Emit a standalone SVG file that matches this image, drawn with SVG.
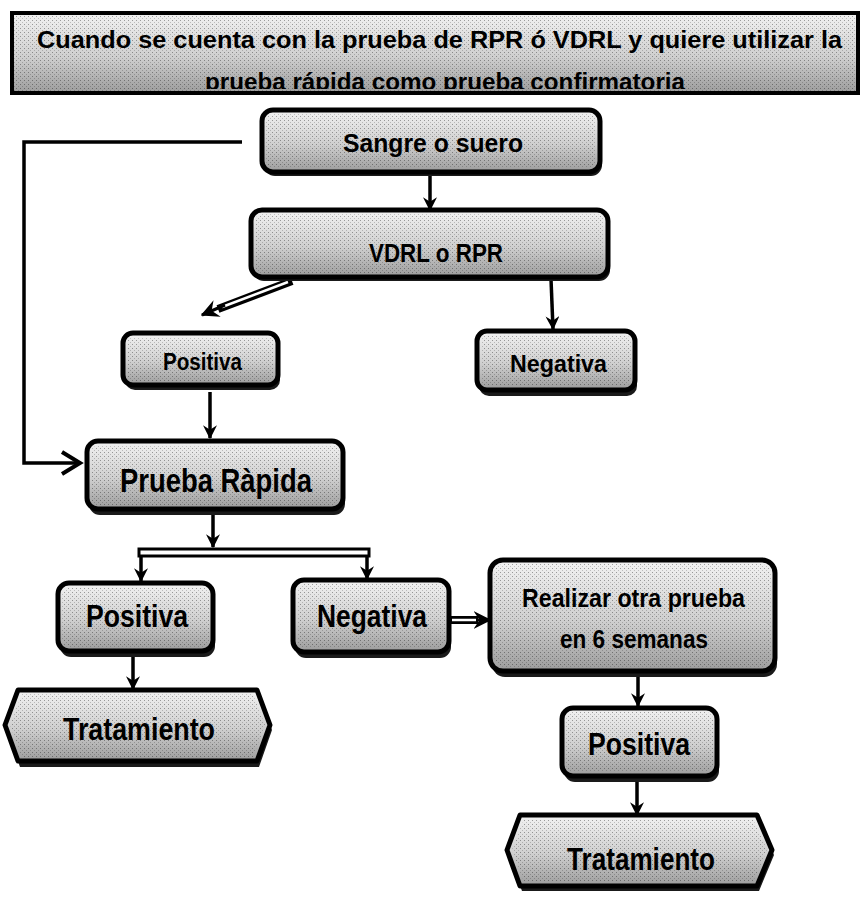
<svg xmlns="http://www.w3.org/2000/svg" width="863" height="907" viewBox="0 0 863 907">
<style>
.box{stroke:#000;stroke-width:5;fill:url(#gfill)}
.tex{fill:url(#dots)}
.shadow{fill:#1a1a1a}
.lbl{font-family:"Liberation Sans Narrow","Liberation Sans",Arial,sans-serif;font-weight:bold;fill:#000;text-anchor:start}
.ln{stroke:#000;stroke-width:3.5;fill:none}
.hol{stroke:#000;stroke-width:8;fill:none}
.holi{stroke:#fff;stroke-width:2.5;fill:none}
</style>
<defs>
<linearGradient id="gfill" x1="0" y1="0" x2="0" y2="1">
<stop offset="0" stop-color="#f2f2f2"/>
<stop offset="0.55" stop-color="#cfcfcf"/>
<stop offset="1" stop-color="#9c9c9c"/>
</linearGradient>
<pattern id="dots" width="4" height="4" patternUnits="userSpaceOnUse">
<rect x="0" y="0" width="1" height="1" fill="#000" opacity="0.35"/>
<rect x="2" y="2" width="1" height="1" fill="#000" opacity="0.2"/>
</pattern>
<marker id="ah" viewBox="0 0 12 12" refX="11" refY="6" markerWidth="14" markerHeight="14" markerUnits="userSpaceOnUse" orient="auto">
<path d="M0,0 L12,6 L0,12 L4,6 z" fill="#000"/>
</marker>
<marker id="ahb" viewBox="0 0 12 12" refX="11" refY="6" markerWidth="18" markerHeight="18" markerUnits="userSpaceOnUse" orient="auto">
<path d="M0,0 L12,6 L0,12 L4,6 z" fill="#000"/>
</marker>
<clipPath id="titleclip"><rect x="12" y="13" width="846" height="76"/></clipPath>
</defs>
<rect width="863" height="907" fill="#fff"/>

<g id="title">
<rect x="12" y="13" width="846" height="80" fill="url(#gfill)"/>
<rect x="12" y="13" width="846" height="80" class="tex"/>
<text class="lbl" x="37" y="48" font-size="24" textLength="805" lengthAdjust="spacingAndGlyphs">Cuando se cuenta con la prueba de RPR ó VDRL y quiere utilizar la</text>
<text class="lbl" x="205" y="90" font-size="24" textLength="480" lengthAdjust="spacingAndGlyphs" clip-path="url(#titleclip)">prueba rápida como prueba confirmatoria</text>
<rect x="12" y="13" width="846" height="80" fill="none" stroke="#000" stroke-width="4"/>
</g>

<g id="connectors">
<!-- left loop -->
<polyline class="ln" points="242,142 24,142 24,463 79,463" stroke-width="4"/>
<polyline points="62,452 80,463 62,474" stroke="#000" stroke-width="4" fill="none"/>
<!-- sangre -> vdrl -->
<line class="ln" x1="430" y1="174" x2="430" y2="210" marker-end="url(#ah)"/>
<!-- vdrl -> positiva (diagonal, hollow) -->
<line class="hol" x1="292" y1="281" x2="218" y2="309"/>
<line class="holi" x1="288" y1="282" x2="222" y2="307"/>
<line x1="225" y1="305" x2="202" y2="315" stroke="#000" stroke-width="3" marker-end="url(#ahb)"/>
<!-- vdrl -> negativa -->
<line class="ln" x1="551" y1="279" x2="553" y2="329" marker-end="url(#ah)"/>
<!-- positiva -> prueba rapida -->
<line class="ln" x1="210" y1="392" x2="210" y2="438" marker-end="url(#ah)"/>
<!-- prueba rapida -> split -->
<line class="ln" x1="213" y1="515" x2="213" y2="547" marker-end="url(#ah)"/>
<rect x="139" y="549" width="230" height="7" fill="#fff" stroke="#000" stroke-width="3"/>
<line class="ln" x1="141" y1="556" x2="141" y2="581" marker-end="url(#ah)"/>
<line class="ln" x1="367" y1="556" x2="367" y2="579" marker-end="url(#ah)"/>
<!-- positiva -> tratamiento -->
<line class="ln" x1="133" y1="657" x2="133" y2="689" marker-end="url(#ah)"/>
<!-- negativa -> realizar (hollow) -->
<line class="hol" x1="450" y1="620" x2="478" y2="620"/>
<line class="holi" x1="452" y1="620" x2="476" y2="620"/>
<line x1="476" y1="620" x2="490" y2="620" stroke="#000" stroke-width="3" marker-end="url(#ahb)"/>
<!-- realizar -> positiva -->
<line class="ln" x1="638" y1="677" x2="638" y2="706" marker-end="url(#ah)"/>
<!-- positiva -> tratamiento -->
<line class="ln" x1="637" y1="782" x2="637" y2="815" marker-end="url(#ah)"/>
</g>

<g id="sangre">
<rect class="shadow" x="264" y="116" width="338" height="60" rx="11"/>
<rect class="box" x="262" y="110" width="338" height="62" rx="11"/>
<rect class="tex" x="266" y="114" width="330" height="54" rx="8"/>
<text class="lbl" x="343" y="152" font-size="25" textLength="180" lengthAdjust="spacingAndGlyphs">Sangre o suero</text>
</g>

<g id="vdrl">
<rect class="shadow" x="253" y="216" width="357" height="65" rx="11"/>
<rect class="box" x="251" y="210" width="357" height="67" rx="11"/>
<rect class="tex" x="255" y="214" width="349" height="59" rx="8"/>
<text class="lbl" x="369" y="262" font-size="26" textLength="134" lengthAdjust="spacingAndGlyphs">VDRL o RPR</text>
</g>

<g id="positiva1">
<rect class="shadow" x="125" y="338" width="155" height="52" rx="10"/>
<rect class="box" x="123" y="333" width="155" height="52" rx="10"/>
<rect class="tex" x="127" y="337" width="147" height="44" rx="7"/>
<text class="lbl" x="163" y="370" font-size="23" textLength="79" lengthAdjust="spacingAndGlyphs">Positiva</text>
</g>

<g id="negativa1">
<rect class="shadow" x="479" y="337" width="158" height="59" rx="10"/>
<rect class="box" x="477" y="331" width="158" height="59" rx="10"/>
<rect class="tex" x="481" y="335" width="150" height="51" rx="7"/>
<text class="lbl" x="510" y="372" font-size="23" textLength="97" lengthAdjust="spacingAndGlyphs">Negativa</text>
</g>

<g id="prueba">
<rect class="shadow" x="89" y="447" width="256" height="68" rx="11"/>
<rect class="box" x="87" y="441" width="256" height="68" rx="11"/>
<rect class="tex" x="91" y="445" width="248" height="60" rx="8"/>
<text class="lbl" x="120" y="492" font-size="33" textLength="192" lengthAdjust="spacingAndGlyphs">Prueba Ràpida</text>
</g>

<g id="positiva2">
<rect class="shadow" x="60" y="589" width="155" height="68" rx="11"/>
<rect class="box" x="58" y="583" width="155" height="68" rx="11"/>
<rect class="tex" x="62" y="587" width="147" height="60" rx="8"/>
<text class="lbl" x="86" y="627" font-size="31" textLength="102" lengthAdjust="spacingAndGlyphs">Positiva</text>
</g>

<g id="negativa2">
<rect class="shadow" x="295" y="586" width="156" height="72" rx="11"/>
<rect class="box" x="293" y="580" width="156" height="72" rx="11"/>
<rect class="tex" x="297" y="584" width="148" height="64" rx="8"/>
<text class="lbl" x="317" y="627" font-size="31" textLength="110" lengthAdjust="spacingAndGlyphs">Negativa</text>
</g>

<g id="realizar">
<rect class="shadow" x="492" y="566" width="285" height="111" rx="13"/>
<rect class="box" x="490" y="560" width="285" height="111" rx="13"/>
<rect class="tex" x="494" y="564" width="277" height="103" rx="10"/>
<text class="lbl" x="522" y="607" font-size="25" textLength="223" lengthAdjust="spacingAndGlyphs">Realizar  otra prueba</text>
<text class="lbl" x="560" y="648" font-size="25" textLength="148" lengthAdjust="spacingAndGlyphs">en 6 semanas</text>
</g>

<g id="tratamiento1">
<polygon class="shadow" points="20,695 259,695 272,730 259,767 20,767 7,730"/>
<polygon class="box" points="18,690 257,690 270,725 257,761 18,761 5,725" stroke-linejoin="round"/>
<polygon class="tex" points="22,694 253,694 265,725 253,757 22,757 10,725"/>
<text class="lbl" x="63" y="740" font-size="31" textLength="152" lengthAdjust="spacingAndGlyphs">Tratamiento</text>
</g>

<g id="positiva3">
<rect class="shadow" x="564" y="714" width="155" height="68" rx="11"/>
<rect class="box" x="562" y="708" width="155" height="68" rx="11"/>
<rect class="tex" x="566" y="712" width="147" height="60" rx="8"/>
<text class="lbl" x="588" y="755" font-size="31" textLength="102" lengthAdjust="spacingAndGlyphs">Positiva</text>
</g>

<g id="tratamiento2">
<polygon class="shadow" points="522,820 759,820 774,855 759,891 522,891 509,855"/>
<polygon class="box" points="520,815 757,815 772,850 757,886 520,886 507,850" stroke-linejoin="round"/>
<polygon class="tex" points="524,819 753,819 767,850 753,882 524,882 512,850"/>
<text class="lbl" x="567" y="870" font-size="31" textLength="148" lengthAdjust="spacingAndGlyphs">Tratamiento</text>
</g>
</svg>
